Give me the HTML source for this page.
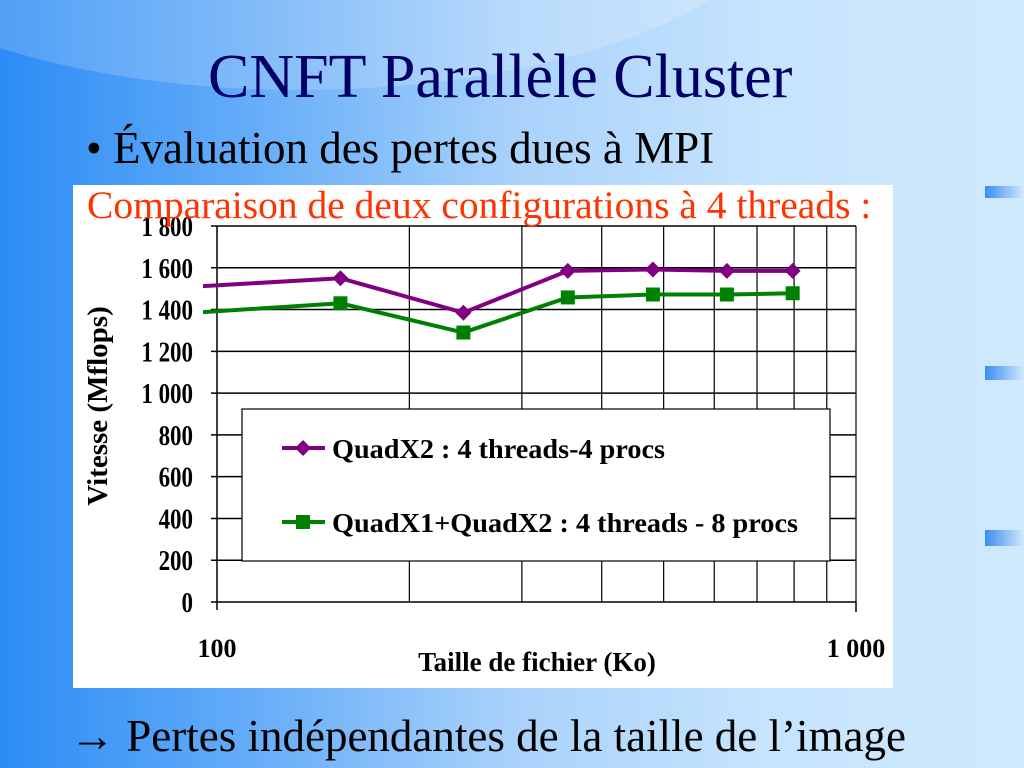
<!DOCTYPE html>
<html><head><meta charset="utf-8"><style>
html,body{margin:0;padding:0;}
body{width:1024px;height:768px;overflow:hidden;position:relative;font-family:"Liberation Serif",serif;
background:linear-gradient(90deg,#2b8cf5 0%,#66adf8 25%,#a9d2fb 50%,#c6e4fd 75%,#cfe9fd 100%);}
.t{position:absolute;white-space:nowrap;line-height:normal;}
#bg{position:absolute;left:0;top:0;width:1024px;height:768px;overflow:hidden;}
</style></head><body>
<div id="bg">
<div style="position:absolute;left:-200px;top:-330px;width:1000px;height:420px;border-radius:50%;background:rgba(255,255,255,0.18)"></div>
<div style="position:absolute;left:985px;top:186px;width:39px;height:12px;background:linear-gradient(90deg,#3a8ef0,#cfe9fd)"></div>
<div style="position:absolute;left:985px;top:366px;width:39px;height:14px;background:linear-gradient(90deg,#3a8ef0,#cfe9fd)"></div>
<div style="position:absolute;left:985px;top:530px;width:39px;height:16px;background:linear-gradient(90deg,#3a8ef0,#cfe9fd)"></div>
</div>
<div class="t" style="left:208px;top:42px;font-size:62px;color:#000066">CNFT Parallèle Cluster</div>
<div class="t" style="left:86px;top:122px;font-size:45px;color:#000">•&nbsp;Évaluation des pertes dues à MPI</div>
<div style="position:absolute;left:73px;top:185px;width:820px;height:503px;background:#fff"></div>
<div class="t" style="left:87px;top:182px;font-size:39.5px;color:#ff3300;z-index:2">Comparaison de deux configurations à 4 threads :</div>
<svg style="position:absolute;left:0;top:0" width="1024" height="768" font-family="Liberation Serif, serif">
<defs><clipPath id="clip"><rect x="203" y="200" width="660" height="420"/></clipPath></defs>
<g id="grid"></g>
<g id="axes"></g>
<g id="series" clip-path="url(#clip)"></g>
<g id="legend"></g>
</svg>
<div class="t" style="left:70px;top:710px;font-size:45px;color:#000">→ Pertes indépendantes de la taille de l’image</div>
<script>
const xValues=[90,156,243,354,481,628,796];
const purpleValues=[1508,1550,1385,1585,1592,1585,1585];
const greenValues=[1383,1430,1290,1458,1472,1472,1478];
const yTicks=[0,200,400,600,800,1000,1200,1400,1600,1800];
const yTickLabels=["0","200","400","600","800","1 000","1 200","1 400","1 600","1 800"];
const xGridValues=[200,300,400,500,600,700,800,900,1000];
const xTickLabels=["100","1 000"];
const seriesNames=["QuadX2 : 4 threads-4 procs","QuadX1+QuadX2 : 4 threads - 8 procs"];
const NS="http://www.w3.org/2000/svg";
const X0=217,X1=856,Y0=602,Y1=226;
function xs(v){return X0+(Math.log10(v)-2)*(X1-X0);}
function ys(v){return Y0-v/1800*(Y0-Y1);}
function mk(tag,attrs,parent){const e=document.createElementNS(NS,tag);for(const k in attrs)e.setAttribute(k,attrs[k]);parent.appendChild(e);return e;}
const grid=document.getElementById('grid'),axes=document.getElementById('axes'),ser=document.getElementById('series'),leg=document.getElementById('legend');
yTicks.forEach((v,i)=>{
  const l=mk('line',{x1:X0-6,x2:X1,y1:ys(v),y2:ys(v),stroke:'#000','stroke-width':1.5},grid);
  
  
  const t=mk('text',{x:193,y:ys(v)+10,'text-anchor':'end','font-size':28,'font-weight':'bold',transform:`translate(193,0) scale(0.82,1) translate(-193,0)`},axes);
  t.textContent=yTickLabels[i];
  
  
});
xGridValues.forEach(v=>{
  const l=mk('line',{x1:xs(v),x2:xs(v),y1:Y1,y2:Y0,stroke:'#000','stroke-width':1.2},grid);
  
  
});
const ya=mk('line',{x1:X0,x2:X0,y1:Y1,y2:Y0+8,stroke:'#000','stroke-width':1.5},axes);


const xt=mk('line',{x1:X1,x2:X1,y1:Y0,y2:Y0+10,stroke:'#000','stroke-width':1.5},axes);


[100,1000].forEach((v,i)=>{
  const t=mk('text',{x:xs(v),y:657,'text-anchor':'middle','font-size':26,'font-weight':'bold'},axes);
  t.textContent=xTickLabels[i];
  
  
});
const xt2=mk('text',{x:537,y:671,'text-anchor':'middle','font-size':27,'font-weight':'bold'},axes);
xt2.textContent='Taille de fichier (Ko)';


const yt=mk('text',{x:0,y:0,'text-anchor':'middle','font-size':29,'font-weight':'bold',transform:'translate(107,406) rotate(-90)'},axes);
yt.textContent='Vitesse (Mflops)';


function diamond(cx,cy,r,col,p){return mk('polygon',{points:`${cx},${cy-r} ${cx+r},${cy} ${cx},${cy+r} ${cx-r},${cy}`,fill:col},p);}
function square(cx,cy,r,col,p){return mk('rect',{x:cx-r,y:cy-r,width:2*r,height:2*r,fill:col},p);}
const defs=[{vals:purpleValues,col:'#800080',m:diamond,n:'purple'},{vals:greenValues,col:'#008000',m:square,n:'green'}];
defs.forEach(d=>{
  const pl=mk('polyline',{points:xValues.map((x,i)=>xs(x)+','+ys(d.vals[i])).join(' '),fill:'none',stroke:d.col,'stroke-width':4},ser);
  
  
  xValues.forEach((x,i)=>{
    const m=d.m(xs(x),ys(d.vals[i]),d.n==='purple'?8:7,d.col,ser);
    
    
  });
});
const lb=mk('rect',{x:242,y:409,width:588,height:152,fill:'#fff',stroke:'#000','stroke-width':1.2},leg);


defs.forEach((d,i)=>{
  const y=[448,522][i];
  const l=mk('line',{x1:282,x2:325,y1:y,y2:y,stroke:d.col,'stroke-width':4},leg);
  
  
  const m=d.m(303,y,i===0?8:7,d.col,leg);
  
  
  const t=mk('text',{x:332,y:y+10,'font-size':27,'font-weight':'bold',textLength:[333,466][i],lengthAdjust:'spacingAndGlyphs'},leg);
  t.textContent=seriesNames[i];
  
  
});
</script>
</body></html>
